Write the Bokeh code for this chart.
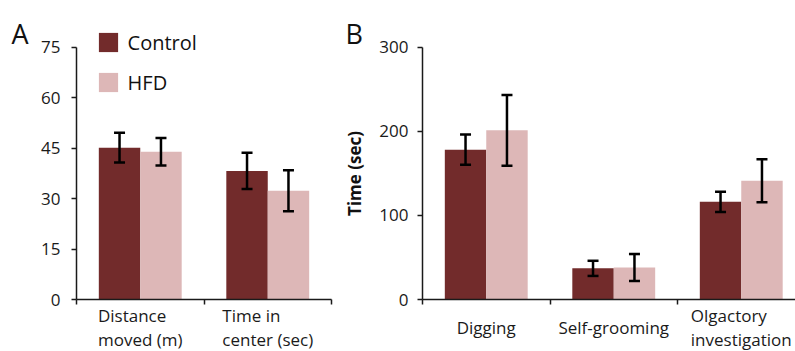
import numpy as np
from bokeh.plotting import figure
from bokeh.models import (ColumnDataSource, Range1d, FixedTicker, Whisker, TeeHead,
                          LabelSet, Label, Legend, LegendItem, LinearAxis)
from bokeh.core.properties import value
from bokeh.layouts import row
from bokeh.embed import file_html
from bokeh.resources import INLINE

# ---------------- data ----------------
groups = ["Control", "HFD"]

cats_a = ["Distance\nmoved (m)", "Time in\ncenter (sec)"]
control_a = [45.1, 38.2]
control_a_err = [4.4, 5.4]
hfd_a = [43.9, 32.3]
hfd_a_err = [4.1, 6.1]
yticks_a = [0, 15, 30, 45, 60, 75]

cats_b = ["Digging", "Self-grooming", "Olgactory\ninvestigation"]
control_b = [178, 37, 116]
control_b_err = [18, 9, 12]
hfd_b = [201, 38, 141]
hfd_b_err = [42, 16, 25.5]
yticks_b = [0, 100, 200, 300]
ylabel_b = "Time (sec)"

# ---------------- style / geometry (pixels) ----------------
FONT = "Open Sans"
C_CTRL = "#722B2B"
C_HFD = "#DDB7B7"
AX = "#1a1a1a"
TXT = "#1a1a1a"
BW = 0.325
H = 351
CAT_PX = 127.5     # pixels per category
Y0_PX = 299        # pixel row of value 0
YTOP_PX = 46.5     # pixel row of top tick


def make_panel(cats, ctrl, ctrl_err, hfd, hfd_err, yticks, width, axis_px,
               letter, letter_px, ylabel=None, legend=False, ystandoff=10):
    ymax = yticks[-1]
    ppu = (Y0_PX - YTOP_PX) / ymax
    x_range = Range1d(-axis_px / CAT_PX, (width - axis_px) / CAT_PX)
    y_range = Range1d(-(H - Y0_PX) / ppu, ymax + YTOP_PX / ppu)
    p = figure(width=width, height=H, output_backend="svg", toolbar_location=None,
               x_range=x_range, y_range=y_range,
               x_axis_location=None, y_axis_location=None,
               min_border=0, min_border_left=0, min_border_right=0,
               min_border_top=0, min_border_bottom=0)
    p.outline_line_color = None
    p.xgrid.visible = False
    p.ygrid.visible = False
    p.background_fill_color = None
    p.border_fill_color = None

    n = len(cats)
    idx = np.arange(n) + 0.5
    src_c = ColumnDataSource(dict(x=idx - BW / 2, top=ctrl,
                                  upper=np.array(ctrl) + np.array(ctrl_err),
                                  lower=np.array(ctrl) - np.array(ctrl_err)))
    src_h = ColumnDataSource(dict(x=idx + BW / 2, top=hfd,
                                  upper=np.array(hfd) + np.array(hfd_err),
                                  lower=np.array(hfd) - np.array(hfd_err)))
    rc = p.vbar(x="x", top="top", width=BW, source=src_c, fill_color=C_CTRL, line_color=None)
    rh = p.vbar(x="x", top="top", width=BW, source=src_h, fill_color=C_HFD, line_color=None)

    for s in (src_c, src_h):
        w = Whisker(source=s, base="x", upper="upper", lower="lower", dimension="height",
                    line_color="black", line_width=2.5, level="annotation",
                    upper_head=TeeHead(size=11, line_color="black", line_width=2.5),
                    lower_head=TeeHead(size=11, line_color="black", line_width=2.5))
        p.add_layout(w)

    # x axis (ticks at category boundaries, no tick labels)
    xa = LinearAxis(fixed_location=0, bounds=(0, n),
                    ticker=FixedTicker(ticks=list(range(n + 1))),
                    major_label_overrides={i: "" for i in range(n + 1)},
                    major_tick_out=5, major_tick_in=0,
                    minor_tick_line_color=None,
                    axis_line_width=1.5, axis_line_color=AX,
                    major_tick_line_width=1.5, major_tick_line_color=AX)
    p.add_layout(xa, "below")

    ya = LinearAxis(fixed_location=0, bounds=(0, ymax),
                    ticker=FixedTicker(ticks=yticks),
                    major_tick_out=5, major_tick_in=0,
                    minor_tick_line_color=None,
                    axis_line_width=1.5, axis_line_color=AX,
                    major_tick_line_width=1.5, major_tick_line_color=AX,
                    major_label_text_font=FONT, major_label_text_font_size="17px",
                    major_label_text_color=TXT, major_label_standoff=ystandoff)
    if ylabel:
        ya.axis_label = ylabel
        ya.axis_label_text_font = FONT
        ya.axis_label_text_font_size = "17px"
        ya.axis_label_text_font_style = "bold"
        ya.axis_label_text_color = "#111111"
        ya.axis_label_standoff = 10
    p.add_layout(ya, "left")

    # category labels
    lsrc = ColumnDataSource(dict(x=idx, y=[0] * n, text=cats))
    p.add_layout(LabelSet(source=lsrc, x="x", y="y", text="text", y_offset=-28,
                          text_align="center", text_baseline="middle",
                          text_font=value(FONT), text_font_size=value("17px"),
                          text_color=TXT, text_line_height=1.04))

    # panel letter
    p.add_layout(Label(x=letter_px, y=H - 33, x_units="screen", y_units="screen", text=letter,
                       text_font=FONT, text_font_size="27px", text_color="#111111",
                       text_baseline="alphabetic"))

    if legend:
        lg = Legend(items=[LegendItem(label=groups[0], renderers=[rc]),
                           LegendItem(label=groups[1], renderers=[rh])],
                    location=(95.6, H - 95.5), padding=0, margin=0, spacing=13,
                    glyph_width=24, glyph_height=24, label_standoff=8,
                    label_text_font=FONT, label_text_font_size="20px",
                    label_text_color="#111111", label_text_baseline="middle",
                    border_line_color=None, background_fill_alpha=0)
        p.add_layout(lg)
    return p


pa = make_panel(cats_a, control_a, control_a_err, hfd_a, hfd_a_err, yticks_a,
                width=340, axis_px=76, letter="A", letter_px=11, legend=True, ystandoff=11)
pb = make_panel(cats_b, control_b, control_b_err, hfd_b, hfd_b_err, yticks_b,
                width=455, axis_px=82, letter="B", letter_px=5, ylabel=ylabel_b, ystandoff=9)

layout = row(pa, pb)
open("out.html", "w").write(file_html(layout, INLINE))
